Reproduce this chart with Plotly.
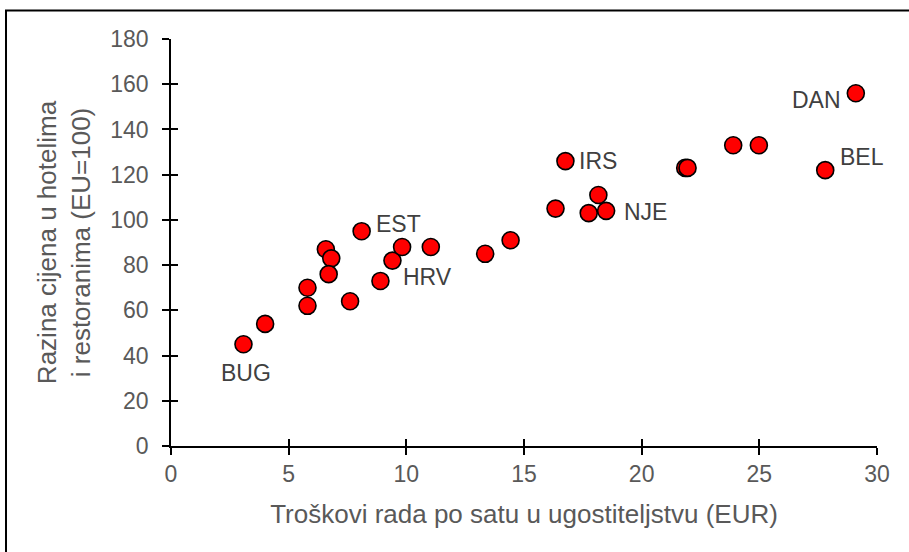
import plotly.graph_objects as go

# Data
labour_cost = [3.08, 4.0, 5.8, 5.8, 6.58, 6.81, 6.70, 7.61, 8.1, 8.9, 9.41, 9.82,
               11.04, 13.35, 14.43, 16.34, 16.76, 18.16, 17.75, 18.49,
               21.85, 21.95, 23.89, 24.98, 27.8, 29.1]
price_level = [45, 54, 62, 70, 87, 83, 76, 64, 95, 73, 82, 88,
               88, 85, 91, 105, 126, 111, 103, 104,
               123, 123, 133, 133, 122, 156]

label_names = ["BUG", "EST", "HRV", "IRS", "NJE", "BEL", "DAN"]
label_x = [3.08, 8.1, 8.9, 16.76, 18.49, 27.8, 29.1]
label_y = [45, 95, 73, 126, 104, 122, 156]

x_ticks = [0, 5, 10, 15, 20, 25, 30]
y_ticks = [0, 20, 40, 60, 80, 100, 120, 140, 160, 180]

FONT = "Liberation Sans, Arial, sans-serif"

fig = go.Figure()
fig.add_trace(go.Scatter(
    x=labour_cost, y=price_level, mode="markers",
    marker=dict(color="#ff0000", size=17, line=dict(color="black", width=1.6)),
    showlegend=False, hoverinfo="x+y",
))
# invisible trace on overlay axes (for crossing ticks)
fig.add_trace(go.Scatter(x=[None], y=[None], xaxis="x2", yaxis="y2",
                         mode="markers", showlegend=False, hoverinfo="skip"))

# label placement (xanchor, yanchor, xshift, yshift)
place = {
    "BUG": ("center", "middle", 3, -29),
    "EST": ("left", "middle", 12, 7),
    "HRV": ("left", "middle", 21, 4),
    "IRS": ("left", "middle", 12, 0),
    "NJE": ("left", "middle", 16, -1),
    "BEL": ("left", "middle", 13, 13),
    "DAN": ("right", "middle", -13, -7),
}
for n, lx, ly in zip(label_names, label_x, label_y):
    xa, ya, xs, ys = place[n]
    fig.add_annotation(x=lx, y=ly, text=n, showarrow=False, xanchor=xa, yanchor=ya,
                       xshift=xs, yshift=ys,
                       font=dict(family=FONT, size=23, color="#404040"))

axis_common = dict(showgrid=False, zeroline=False, showline=True, linecolor="black",
                   linewidth=1.5, ticks="outside", ticklen=7, tickwidth=1.5,
                   tickcolor="black",
                   tickfont=dict(family=FONT, size=23, color="#595959"))

fig.update_layout(
    width=909, height=552,
    margin=dict(l=171, r=32, t=39, b=106),
    paper_bgcolor="white", plot_bgcolor="white",
    xaxis=dict(range=[0, 30], tickvals=x_ticks,
               title=dict(text="Troškovi rada po satu u ugostiteljstvu (EUR)",
                          font=dict(family=FONT, size=26, color="#595959"), standoff=18),
               **axis_common),
    yaxis=dict(range=[0, 180], tickvals=y_ticks, ticklabelstandoff=9,
               title=dict(text="Razina cijena u hotelima<br>i restoranima (EU=100)",
                          font=dict(family=FONT, size=26, color="#595959"), standoff=12),
               **axis_common),
    xaxis2=dict(range=[0, 30], tickvals=x_ticks, overlaying="x", anchor="y2", side="bottom",
                showgrid=False, zeroline=False, showline=False, ticks="inside", ticklen=7,
                tickwidth=1.5, tickcolor="black", showticklabels=False),
    yaxis2=dict(range=[0, 180], tickvals=y_ticks, overlaying="y", anchor="x2", side="left",
                showgrid=False, zeroline=False, showline=False, ticks="inside", ticklen=7,
                tickwidth=1.5, tickcolor="black", showticklabels=False),
    shapes=[dict(type="rect", xref="paper", yref="paper",
                 x0=-0.2337, x1=1.2, y0=-0.4, y1=1.07,
                 line=dict(color="black", width=2))],
)

fig.write_html("out.html", config={"displayModeBar": False},
               post_script="document.body.style.margin='0';document.body.style.overflow='hidden';")
